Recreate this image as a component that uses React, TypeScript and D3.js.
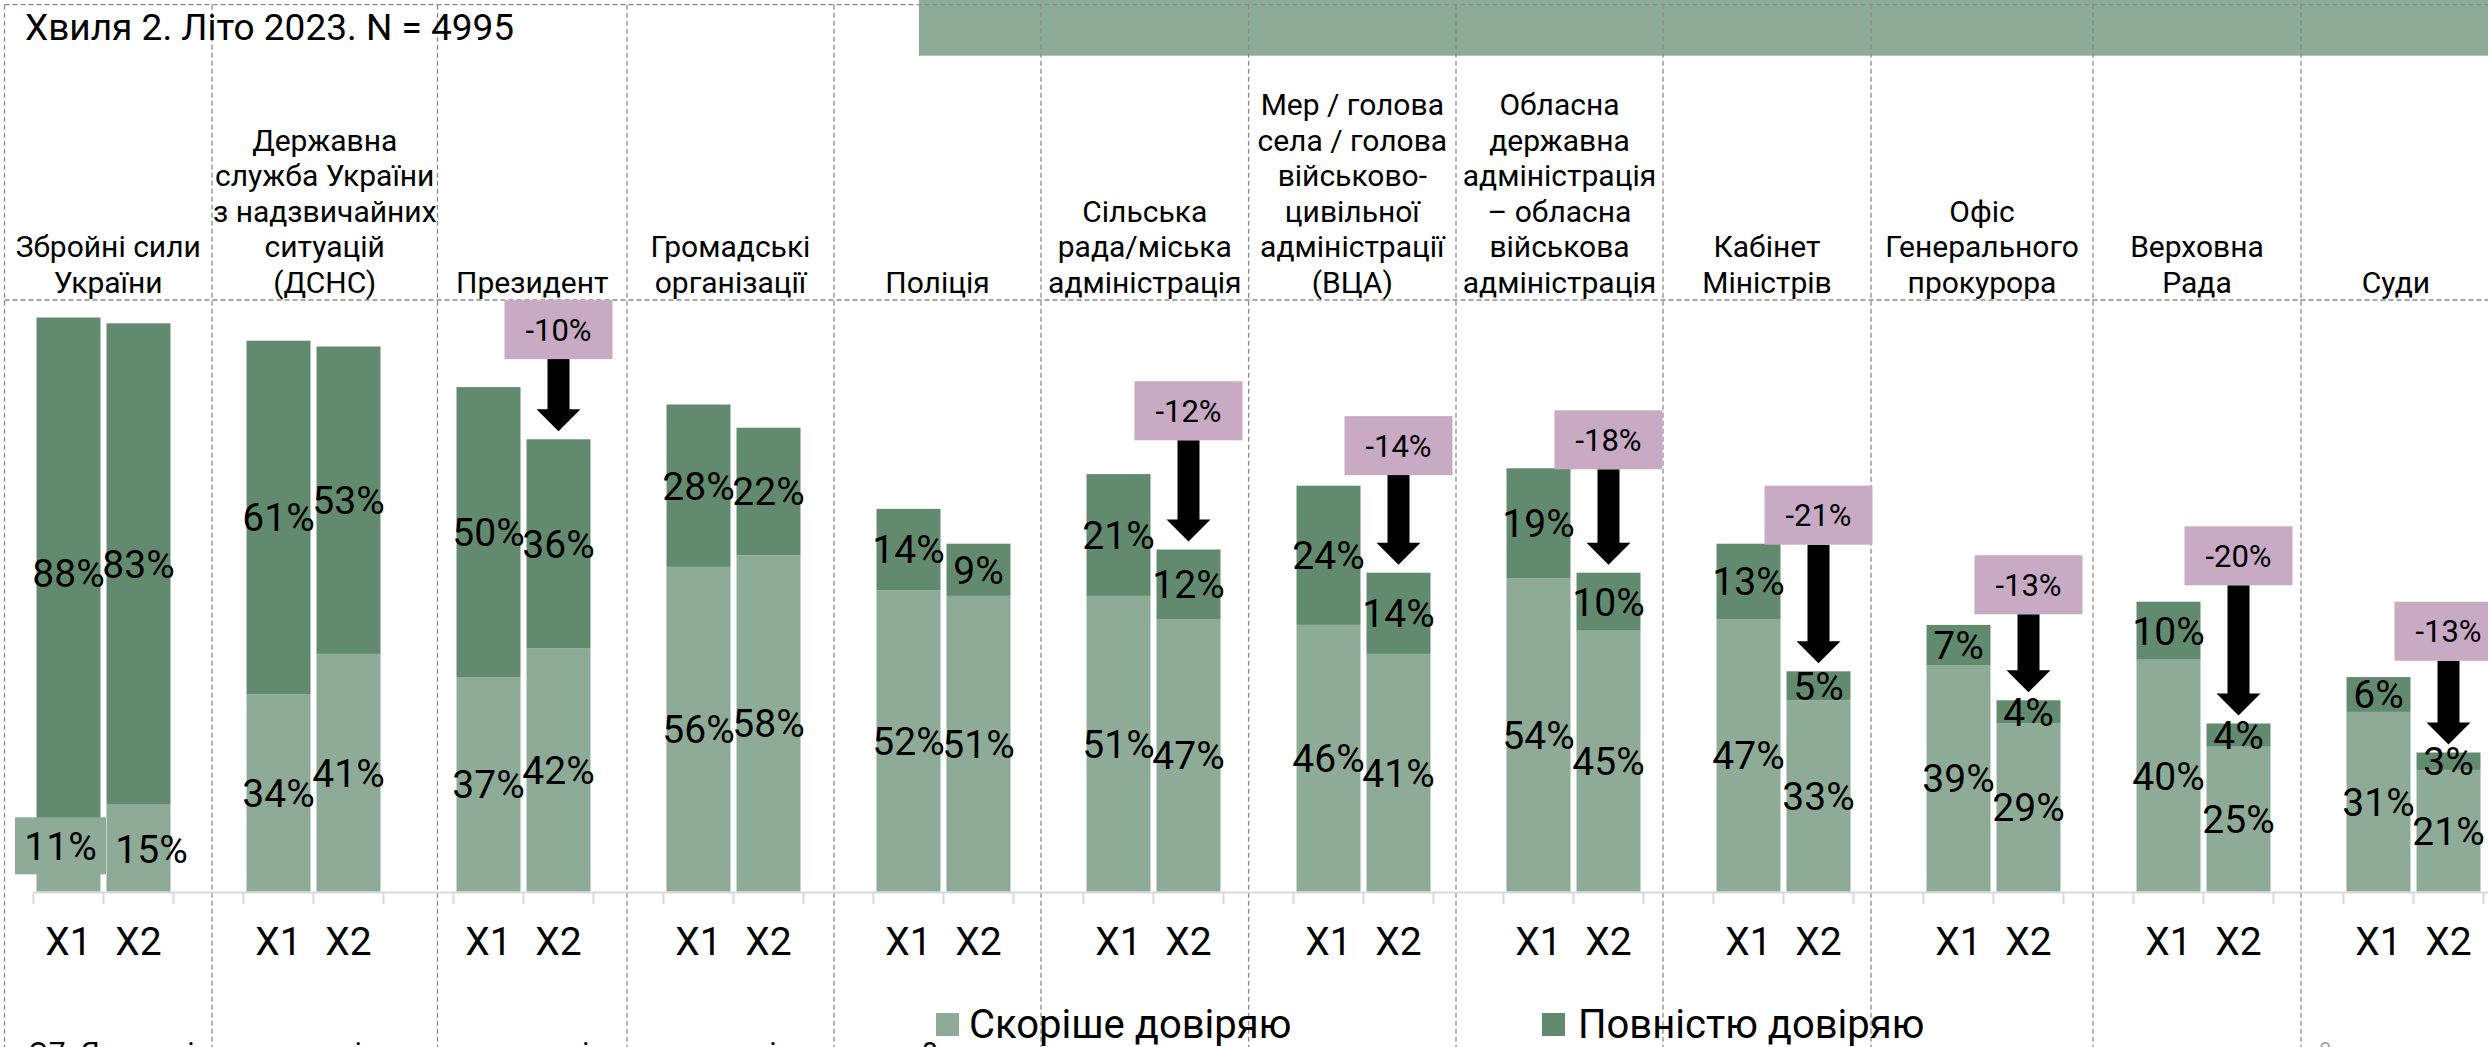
import React from "react";
import * as d3 from "d3";

// ---------- DATA ----------
const categories = [
  "Збройні сили України",
  "Державна служба України з надзвичайних ситуацій (ДСНС)",
  "Президент",
  "Громадські організації",
  "Поліція",
  "Сільська рада/міська адміністрація",
  "Мер / голова села / голова військово-цивільної адміністрації (ВЦА)",
  "Обласна державна адміністрація – обласна військова адміністрація",
  "Кабінет Міністрів",
  "Офіс Генерального прокурора",
  "Верховна Рада",
  "Суди",
];
const headerLines = [
  ["Збройні сили", "України"],
  ["Державна", "служба України", "з надзвичайних", "ситуацій", "(ДСНС)"],
  ["Президент"],
  ["Громадські", "організації"],
  ["Поліція"],
  ["Сільська", "рада/міська", "адміністрація"],
  ["Мер / голова", "села / голова", "військово-", "цивільної", "адміністрації", "(ВЦА)"],
  ["Обласна", "державна", "адміністрація", "– обласна", "військова", "адміністрація"],
  ["Кабінет", "Міністрів"],
  ["Офіс", "Генерального", "прокурора"],
  ["Верховна", "Рада"],
  ["Суди"],
];
const waves = ["Х1", "Х2"];
const seriesNames = ["Скоріше довіряю", "Повністю довіряю"];

const somewhatX1 = [11, 34, 37, 56, 52, 51, 46, 54, 47, 39, 40, 31];
const fullyX1 = [88, 61, 50, 28, 14, 21, 24, 19, 13, 7, 10, 6];
const somewhatX2 = [15, 41, 42, 58, 51, 47, 41, 45, 33, 29, 25, 21];
const fullyX2 = [83, 53, 36, 22, 9, 12, 14, 10, 5, 4, 4, 3];

const changes = [null, null, -10, null, null, -12, -14, -18, -21, -13, -20, -13];
// level (in % units) where the change label box sits
const changeLabelLevel = [null, null, 102, null, null, 88, 82, 83, 70, 58, 63, 50];

const title = "Хвиля 2. Літо 2023. N = 4995";
const question = "Q7. Якою мірою ви довіряєте чи не довіряєте таким інститутам?";

// ---------- LAYOUT ----------
const W = 2488;
const H = 1047;
const LIGHT = "#8EAB97";
const DARK = "#628A6E";
const PINK = "#C8AAC5";
const GRID = "#8c8c8c";
const FONT = "Roboto, 'Noto Sans', sans-serif";
const cellEdges = [4.5, 212, 437.5, 627, 834, 1041, 1248.6, 1456, 1663, 1871, 2093, 2301, 2491];

export default function App() {
  const nSlots = categories.length * 3;
  const step = 70;
  const x0 = 33.5;
  const x = d3
    .scaleBand<number>()
    .domain(d3.range(nSlots))
    .range([x0, x0 + nSlots * step])
    .paddingInner(0.086)
    .paddingOuter(0.043);
  const bw = x.bandwidth();
  const y = d3.scaleLinear().domain([0, 100]).range([891.7, 311.7]);

  const bars: { slot: number; cat: number; wave: number; light: number; dark: number }[] = [];
  categories.forEach((_, i) => {
    bars.push({ slot: i * 3, cat: i, wave: 0, light: somewhatX1[i], dark: fullyX1[i] });
    bars.push({ slot: i * 3 + 1, cat: i, wave: 1, light: somewhatX2[i], dark: fullyX2[i] });
  });

  const labelFS = 39;
  const base = (cy: number, fs: number) => cy + fs * 0.355;

  // special label nudges for the first category's small light segments
  const nudge = (cat: number, wave: number) => {
    if (cat === 0 && wave === 0) return { dx: -8, dy: -14, box: true };
    if (cat === 0 && wave === 1) return { dx: 13, dy: 1, box: false };
    return { dx: 0, dy: 0, box: false };
  };

  const ticks = d3.range(nSlots + 1).map((i) => x0 + i * step);

  return (
    <div style={{ position: "absolute", left: 0, top: 0, width: W, height: H, overflow: "hidden" }}>
      <svg width={W} height={H} style={{ display: "block", fontFamily: FONT }} overflow="hidden">
        <rect x={0} y={0} width={W} height={H} fill="#ffffff" />
        {/* top green strip */}
        <rect x={919} y={0} width={W - 919} height={55.7} fill={LIGHT} />

        {/* dashed grid */}
        <g stroke={GRID} strokeWidth={1.3} strokeDasharray="5,3" fill="none">
          <line x1={4.5} x2={W} y1={4.7} y2={4.7} />
          <line x1={4.5} x2={W} y1={300} y2={300} />
          {cellEdges.slice(0, -1).map((cx, i) => (
            <line key={i} x1={cx} x2={cx} y1={4.7} y2={H} />
          ))}
        </g>

        {/* title */}
        <text x={25} y={40} fontSize={37} fill="#000">
          {title}
        </text>

        {/* headers */}
        {headerLines.map((lines, i) => {
          const cx = (cellEdges[i] + cellEdges[i + 1]) / 2;
          const lh = 35.6;
          const lastBase = 293;
          return (
            <text key={i} x={cx} textAnchor="middle" fontSize={30} fill="#000">
              {lines.map((ln, j) => (
                <tspan key={j} x={cx} y={lastBase - (lines.length - 1 - j) * lh}>
                  {ln}
                </tspan>
              ))}
            </text>
          );
        })}

        {/* bars */}
        {bars.map((b) => {
          const bx = x(b.slot)!;
          return (
            <g key={`b${b.slot}`}>
              <rect x={bx} y={y(b.light)} width={bw} height={y(0) - y(b.light)} fill={LIGHT} />
              <rect
                x={bx}
                y={y(b.light + b.dark)}
                width={bw}
                height={y(b.light) - y(b.light + b.dark)}
                fill={DARK}
              />
            </g>
          );
        })}

        {/* axis */}
        <line x1={x0} x2={x0 + nSlots * step} y1={892.5} y2={892.5} stroke="#d9d9d9" strokeWidth={2} />
        {ticks.map((t, i) => (
          <line key={i} x1={t} x2={t} y1={892.5} y2={904} stroke="#d9d9d9" strokeWidth={2} />
        ))}
        {bars.map((b) => (
          <text
            key={`ax${b.slot}`}
            x={x(b.slot)! + bw / 2}
            y={955}
            textAnchor="middle"
            fontSize={labelFS}
            fill="#000"
          >
            {waves[b.wave]}
          </text>
        ))}

        {/* data labels */}
        {bars.map((b) => {
          const cx = x(b.slot)! + bw / 2;
          const cyDark = (y(b.light) + y(b.light + b.dark)) / 2;
          const cyLight = (y(0) + y(b.light)) / 2;
          const n = nudge(b.cat, b.wave);
          const lx = cx + n.dx;
          const ly = cyLight + n.dy;
          return (
            <g key={`l${b.slot}`}>
              <text x={cx} y={base(cyDark, labelFS)} textAnchor="middle" fontSize={labelFS} fill="#000">
                {b.dark}%
              </text>
              {n.box && <rect x={lx - 45.5} y={ly - 28.5} width={91} height={57} fill={LIGHT} />}
              <text x={lx} y={base(ly, labelFS)} textAnchor="middle" fontSize={labelFS} fill="#000">
                {b.light}%
              </text>
            </g>
          );
        })}

        {/* change annotations */}
        {changes.map((c, i) => {
          if (c === null || changeLabelLevel[i] === null) return null;
          const slot = i * 3 + 1;
          const cx = x(slot)! + bw / 2;
          const boxTop = y(changeLabelLevel[i] as number);
          const boxH = 59;
          const boxW = 108;
          const boxBottom = boxTop + boxH;
          const tip = y(somewhatX2[i] + fullyX2[i]) - 8;
          const headStart = tip - 22;
          const sw = 11;
          const hw = 22;
          const path = `M${cx - sw},${boxBottom} L${cx + sw},${boxBottom} L${cx + sw},${headStart} L${cx + hw},${headStart} L${cx},${tip} L${cx - hw},${headStart} L${cx - sw},${headStart} Z`;
          return (
            <g key={`c${i}`}>
              <path d={path} fill="#000" />
              <rect x={cx - boxW / 2} y={boxTop} width={boxW} height={boxH} fill={PINK} />
              <text x={cx} y={base(boxTop + boxH / 2, 31)} textAnchor="middle" fontSize={31} fill="#000">
                {c}%
              </text>
            </g>
          );
        })}

        {/* legend */}
        <rect x={936} y={1013} width={23} height={23} fill={LIGHT} />
        <text x={969} y={1038} fontSize={40} fill="#000">
          {seriesNames[0]}
        </text>
        <rect x={1542} y={1013} width={23} height={23} fill={DARK} />
        <text x={1578} y={1038} fontSize={40} fill="#000">
          {seriesNames[1]}
        </text>

        {/* bottom (cut off) question text */}
        <text x={28} y={1063} fontSize={30} fill="#000">
          {question}
        </text>
        <text x={2319} y={1058} fontSize={22} fill="#a6a6a6">
          0
        </text>
      </svg>
    </div>
  );
}
